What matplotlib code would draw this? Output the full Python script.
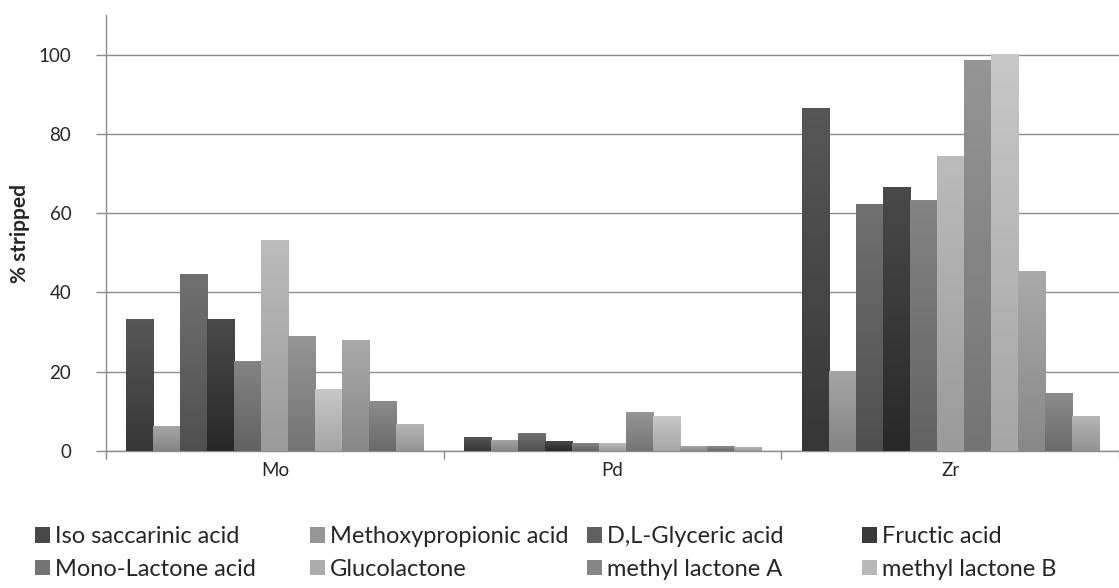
import numpy as np
import matplotlib
matplotlib.use('Agg')
import matplotlib.pyplot as plt
from matplotlib.colors import LinearSegmentedColormap, to_rgb
from matplotlib.patches import Rectangle

plt.rcParams['font.family'] = ['Lato', 'DejaVu Sans']

# --- Data ---
metals = ['Mo', 'Pd', 'Zr']
series_names = ['Iso saccarinic acid', 'Methoxypropionic acid', 'D,L-Glyceric acid', 'Fructic acid',
                'Mono-Lactone acid', 'Glucolactone', 'methyl lactone A', 'methyl lactone B']
mo_vals = [33.3, 6.2, 44.6, 33.3, 22.5, 53.1, 28.9, 15.6, 27.9, 12.5, 6.8]
pd_vals = [3.3, 2.7, 4.3, 2.4, 1.8, 1.8, 9.7, 8.8, 1.1, 1.2, 0.8]
zr_vals = [86.4, 20.0, 62.2, 66.4, 63.2, 74.2, 98.5, 100.0, 45.3, 14.5, 8.7]
bar_colors = ['#484848', '#969696', '#616161', '#3a3a3a', '#747474', '#acacac',
              '#868686', '#b8b8b8', '#9a9a9a', '#7c7c7c', '#a6a6a6']

values = np.array([mo_vals, pd_vals, zr_vals])  # shape (metal, series)
n_series = values.shape[1]

# --- Figure ---
fig = plt.figure(figsize=(11.19, 5.88), dpi=100)
ax = fig.add_axes([106/1119, 1 - 451/588, 1 - 106/1119, (451 - 15)/588])

grid_col = '#8c8c8c'
text_col = '#262626'
bw = 0.08
x = np.arange(len(metals))

def shade(c, d):
    r, g, b = to_rgb(c)
    return tuple(min(max(v + d, 0), 1) for v in (r, g, b))

for i in range(n_series):
    xs = x - bw * n_series / 2 + (i + 0.5) * bw
    bars = ax.bar(xs, values[:, i], width=bw, color=bar_colors[i], zorder=2, linewidth=0)
    cmap = LinearSegmentedColormap.from_list('g%d' % i, [shade(bar_colors[i], -0.07), shade(bar_colors[i], 0.06)])
    grad = np.linspace(0, 1, 64).reshape(-1, 1)
    for b in bars:
        x0 = b.get_x()
        h = b.get_height()
        ax.imshow(grad, cmap=cmap, aspect='auto', origin='lower',
                  extent=(x0, x0 + bw, 0, h), zorder=3, interpolation='bilinear')

ax.set_xlim(-0.5, len(metals) - 0.5)
ax.set_ylim(0, 110)

ax.set_yticks(np.arange(0, 101, 20))
ax.yaxis.grid(True, color=grid_col, linewidth=1.0, zorder=0)
ax.set_axisbelow(True)

# group boundaries as major ticks, names as minor ticks
ax.set_xticks(np.arange(-0.5, len(metals)))
ax.set_xticklabels([])
ax.set_xticks(x, minor=True)
ax.set_xticklabels(metals, minor=True)
ax.tick_params(axis='x', which='major', direction='out', length=6, color=grid_col, width=1)
ax.tick_params(axis='x', which='minor', length=0, pad=8, labelsize=13.5, labelcolor=text_col)
ax.tick_params(axis='y', direction='out', length=7, color=grid_col, width=1, pad=18,
               labelsize=13.5, labelcolor=text_col)

for s in ['top', 'right']:
    ax.spines[s].set_visible(False)
for s in ['left', 'bottom']:
    ax.spines[s].set_color(grid_col)
    ax.spines[s].set_linewidth(1.0)

fig.text(20/1119, 1 - 233/588, '% stripped', rotation=90, ha='center', va='center',
         fontsize=15, fontweight='bold', color=text_col)

# --- Legend: four equal-width columns, two rows ---
col_x = [35, 310, 587, 862]
for c in range(4):
    idx = [c, c + 4]
    handles = [Rectangle((0, 0), 1, 1, facecolor=bar_colors[k], edgecolor='none') for k in idx]
    fig.legend(handles, [series_names[k] for k in idx], loc='upper left',
               bbox_to_anchor=(col_x[c]/1119, 1 - 526/588), frameon=False,
               borderpad=0, borderaxespad=0, handlelength=0.65, handleheight=0.65,
               handletextpad=0.2, labelspacing=0.5, fontsize=17, labelcolor=text_col)

fig.savefig('out.png', dpi=100)
